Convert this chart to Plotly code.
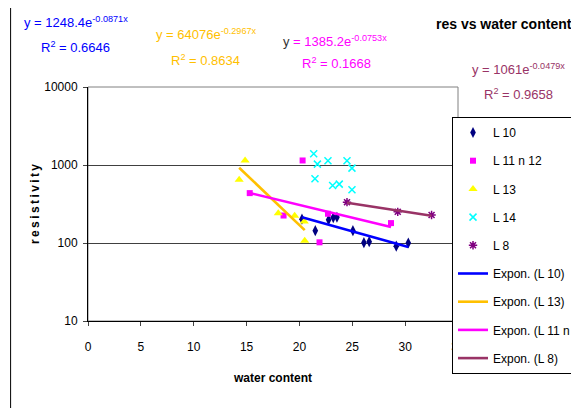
import numpy as np
import plotly.graph_objects as go

# ---------------- data ----------------
l10_x = [20.24, 21.5, 22.76, 23.2, 23.55, 25.06, 26.1, 26.6, 29.16, 30.3]
l10_y = [202, 144, 198, 212, 214, 144, 101, 104, 91, 100]

l11_x = [20.3, 15.3, 18.5, 22.7, 21.9, 28.66]
l11_y = [1143, 436, 225, 237, 102, 180]

l13_x = [14.86, 14.3, 18.0, 19.55, 20.46, 20.5]
l13_y = [1140, 646, 241, 223, 188, 107]

l14_x = [21.35, 21.7, 22.7, 24.5, 24.97, 21.47, 23.14, 23.77, 24.97]
l14_y = [1393, 1026, 1132, 1132, 912, 665, 546, 569, 481]

l8_x = [24.5, 29.3, 32.5]
l8_y = [334, 251, 229]

# exponential trendline coefficients (from the chart labels): y = a*exp(b*x), R^2
fit_l10 = (1248.4, -0.0871, 0.6646)
fit_l13 = (64076, -0.2967, 0.8634)
fit_l11 = (1385.2, -0.0753, 0.1668)
fit_l8 = (1061, -0.0479, 0.9658)

x_ticks = [0, 5, 10, 15, 20, 25, 30, 35]
y_ticks = [10, 100, 1000, 10000]
y_ticktext = ["10", "100", "1000", "10000"]

# ---------------- layout geometry (page pixels) ----------------
OX, OY = 8, 8          # page body margin
W, H = 579, 408
L, R, T, B = 87.5, 458, 87, 321


def px(x):
    return (x - L) / (R - L)


def py(y):
    return 1 - (y - T) / (B - T)


FONT = "Liberation Sans, Arial, sans-serif"

fig = go.Figure()


def trend(xs, fit):
    a, b, _ = fit
    xe = np.array([min(xs), max(xs)])
    return xe, a * np.exp(b * xe)


fig.add_trace(go.Scatter(x=l10_x, y=l10_y, mode="markers", name="L 10",
                         marker=dict(symbol="diamond-tall", size=8, color="#000080"),
                         legendgroup="a"))
fig.add_trace(go.Scatter(x=l11_x, y=l11_y, mode="markers", name="L 11 n 12",
                         marker=dict(symbol="square", size=6, color="#FF00FF"),
                         legendgroup="b"))
fig.add_trace(go.Scatter(x=l13_x, y=l13_y, mode="markers", name="L 13",
                         marker=dict(symbol="triangle-up", size=8, color="#FFFF00"),
                         legendgroup="c"))
fig.add_trace(go.Scatter(x=l14_x, y=l14_y, mode="markers", name="L 14",
                         marker=dict(symbol="x-thin-open", size=7, color="#00FFFF",
                                     line=dict(width=1.5, color="#00FFFF")),
                         legendgroup="d"))
fig.add_trace(go.Scatter(x=l8_x, y=l8_y, mode="markers", name="L 8",
                         marker=dict(symbol="asterisk-open", size=7, color="#800080",
                                     line=dict(width=1.5, color="#800080")),
                         legendgroup="e"))

for nm, xs, fit, col, g in [("Expon. (L 10)", l10_x, fit_l10, "#0000FF", "f"),
                            ("Expon. (L 13)", l13_x, fit_l13, "#FFC000", "g"),
                            ("Expon. (L 11 n 12)", l11_x, fit_l11, "#FF00FF", "h"),
                            ("Expon. (L 8)", l8_x, fit_l8, "#993366", "i")]:
    tx, ty = trend(xs, fit)
    fig.add_trace(go.Scatter(x=tx, y=ty, mode="lines", name=nm,
                             line=dict(color=col, width=2.6), legendgroup=g))

annots = []


def eq_text(fit, ycol=None):
    a, b, r2 = fit
    yy = "y" if ycol is None else '<span style="color:%s">y</span>' % ycol
    return (yy + " = %ge<sup>%gx</sup>" % (a, b),
            "R<sup>2</sup> = %g" % r2)


def add_eq(fit, col, x1, y1, x2, y2, ycol=None):
    e, r = eq_text(fit, ycol)
    for t, xx, yy in [(e, x1, y1), (r, x2, y2)]:
        annots.append(dict(text=t, x=px(xx), y=py(yy), xref="paper", yref="paper",
                           xanchor="left", yanchor="middle", showarrow=False,
                           font=dict(family=FONT, size=13, color=col)))


add_eq(fit_l10, "#0000FF", 21, 22, 38, 47)
add_eq(fit_l13, "#FFC000", 154, 34, 169, 60)
add_eq(fit_l11, "#FF00FF", 281, 41, 300, 63, ycol="#333333")
add_eq(fit_l8, "#993366", 470, 69, 482, 94)

annots.append(dict(text="<b>res vs water content</b>", x=px(434), y=py(24),
                   xref="paper", yref="paper", xanchor="left", yanchor="middle",
                   showarrow=False, font=dict(family=FONT, size=14, color="black")))

fig.update_layout(
    width=W, height=H,
    margin=dict(l=L - OX, r=W - (R - OX), t=T - OY, b=H - (B - OY), autoexpand=False),
    paper_bgcolor="white", plot_bgcolor="white",
    font=dict(family=FONT, size=12, color="black"),
    showlegend=True,
    legend=dict(x=px(452), y=py(117), xanchor="left", yanchor="top",
                bgcolor="white", bordercolor="black", borderwidth=1,
                font=dict(family=FONT, size=12, color="black"),
                traceorder="grouped", tracegroupgap=9.2, itemwidth=30,
                maxheight=400),
    annotations=annots,
    shapes=[
        dict(type="rect", xref="paper", yref="paper", x0=0, x1=1, y0=0, y1=1,
             line=dict(color="#808080", width=1), layer="below"),
        dict(type="line", xref="paper", yref="paper", x0=px(10), x1=px(10),
             y0=py(700), y1=py(2), line=dict(color="black", width=1), layer="above"),
    ],
    xaxis=dict(range=[0, 35], tickvals=x_ticks, ticks="outside", ticklen=4,
               ticklabelstandoff=11,
               showline=True, linecolor="black", linewidth=1, showgrid=False,
               zeroline=False, tickfont=dict(family=FONT, size=12),
               title=dict(text="<b>water content</b>", standoff=20,
                          font=dict(family=FONT, size=12))),
    yaxis=dict(type="log", range=[1, 4], tickvals=y_ticks, ticktext=y_ticktext,
               ticks="outside", ticklen=4, ticklabelstandoff=3,
               showline=True, linecolor="black",
               linewidth=1, showgrid=True, gridcolor="#404040", gridwidth=1,
               zeroline=False, tickfont=dict(family=FONT, size=12),
               title=dict(text="<b>r\u2009e\u2009s\u2009i\u2009s\u2009t\u2009i\u2009v\u2009i\u2009t\u2009y</b>",
                          standoff=2, font=dict(family=FONT, size=12))),
)

fig.write_html("out.html")
